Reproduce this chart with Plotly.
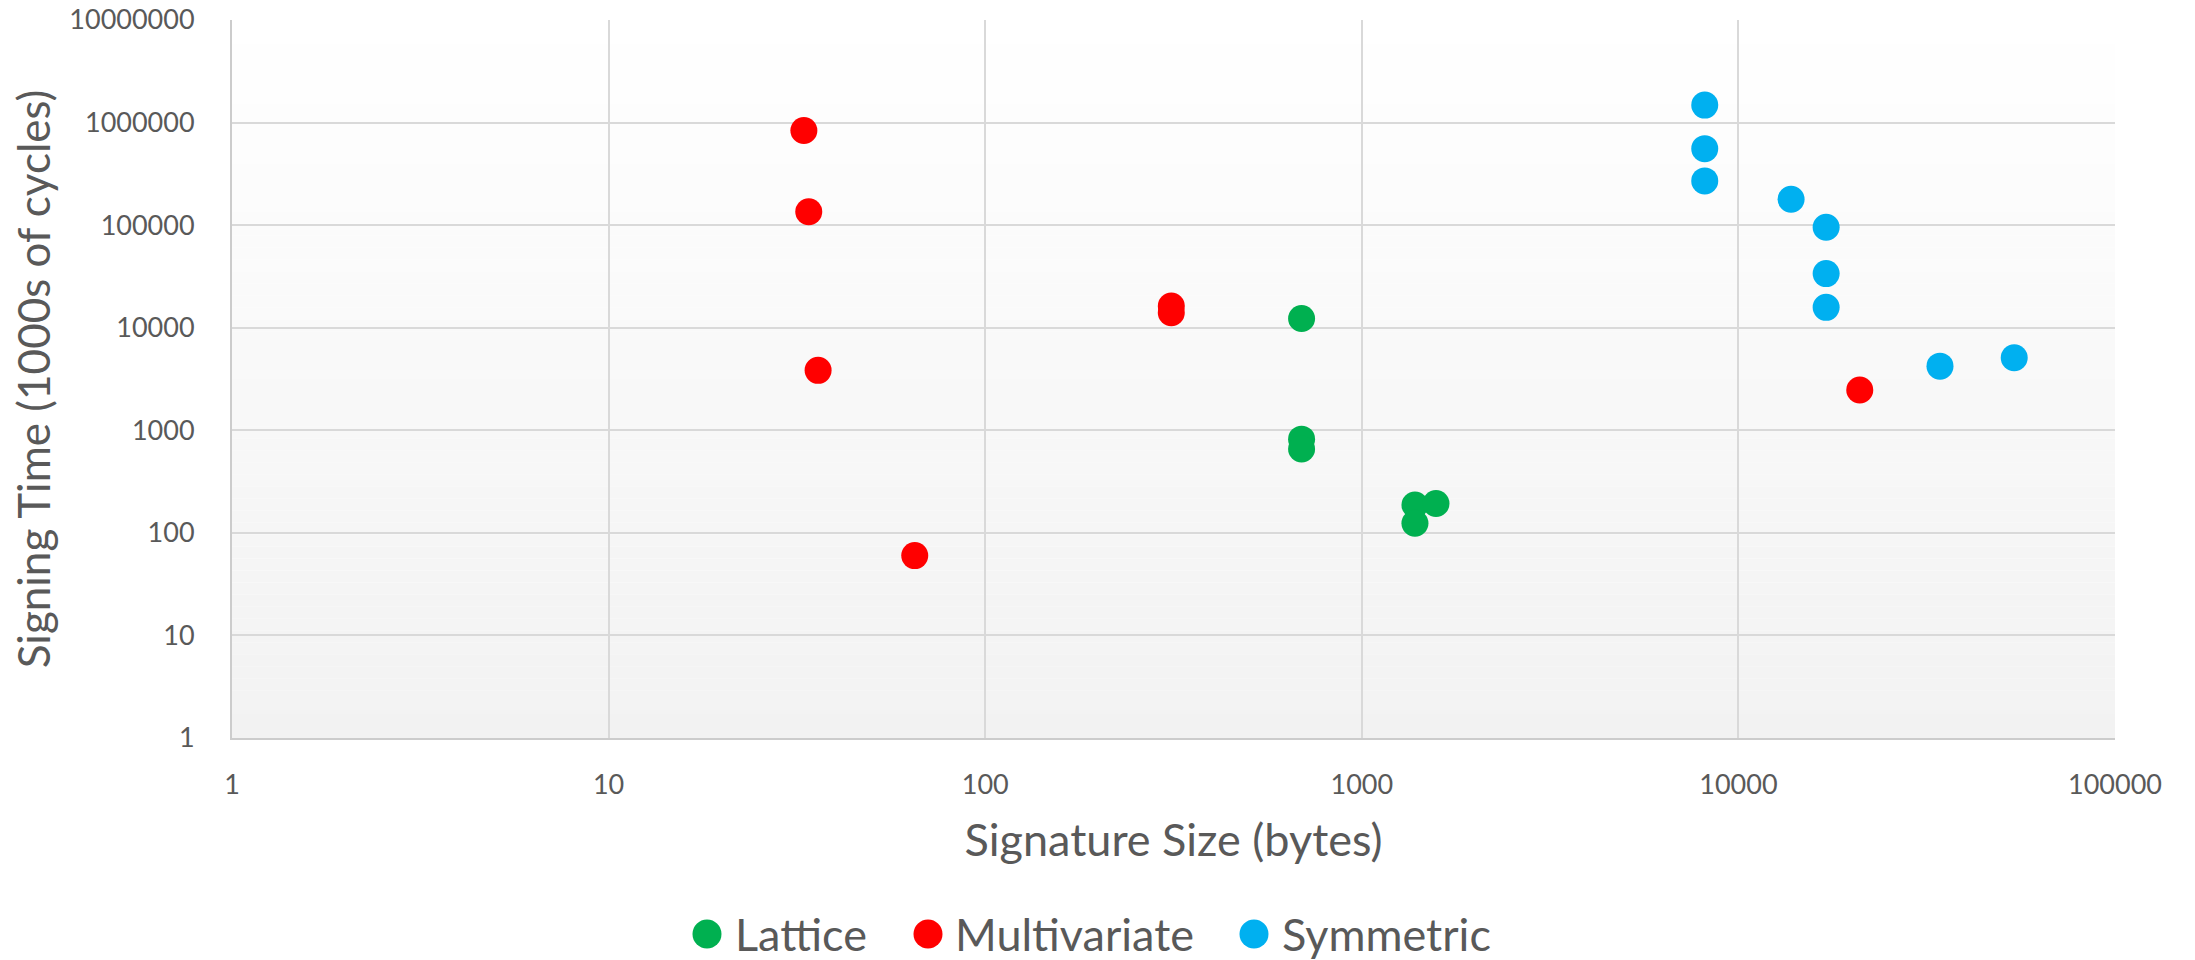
import plotly.graph_objects as go

# ---- data ----
lattice_x = [692, 692, 692, 1384, 1384, 1574]
lattice_y = [12300, 820, 658, 187, 124, 193]

multi_x = [33, 34, 36, 65, 312, 312, 21000]
multi_y = [838000, 135000, 3840, 60, 16300, 14000, 2470]

sym_x = [8140, 8140, 8140, 13800, 17100, 17100, 17100, 34300, 54000]
sym_y = [1480000, 557000, 270000, 179000, 95400, 33700, 15800, 4220, 5100]

x_tickvals = [1, 10, 100, 1000, 10000, 100000]
x_ticktext = ["1", "10", "100", "1000", "10000", "100000"]
y_tickvals = [1, 10, 100, 1000, 10000, 100000, 1000000, 10000000]
y_ticktext = ["1", "10", "100", "1000", "10000", "100000", "1000000", "10000000"]

FONT = "Lato"
TXT = "#595959"
MSIZE = 27

# plot area in page pixels
PL, PR, PT, PB = 232, 2115, 20, 738
W, H = 2195, 960


def px_x(X):
    return (X - PL) / (PR - PL)


def px_y(Y):
    return (PB - Y) / (PB - PT)


fig = go.Figure()
series = [
    ("Lattice", lattice_x, lattice_y, "#00B050"),
    ("Multivariate", multi_x, multi_y, "#FF0000"),
    ("Symmetric", sym_x, sym_y, "#00B0F0"),
]
for name, xs, ys, col in series:
    fig.add_trace(go.Scatter(
        x=xs, y=ys, mode="markers", name=name, showlegend=False,
        marker=dict(symbol="circle", size=MSIZE, color=col,
                    line=dict(width=0)),
    ))

# legend: large round swatches + labels (like the reference)
legend_dot_x = [707, 928, 1254]
legend_txt_x = [733, 953, 1280]
LEG_Y = 934
for (name, _, _, col), dx, tx in zip(series, legend_dot_x, legend_txt_x):
    fig.add_shape(type="circle", xref="paper", yref="paper",
                  xsizemode="pixel", ysizemode="pixel",
                  xanchor=px_x(dx), yanchor=px_y(LEG_Y),
                  x0=-14.5, x1=14.5, y0=-14.5, y1=14.5,
                  fillcolor=col, line=dict(width=0))
    fig.add_annotation(text=name, xref="paper", yref="paper",
                       x=px_x(tx), y=px_y(LEG_Y), xanchor="left", yanchor="middle",
                       showarrow=False, font=dict(size=45, color=TXT, family=FONT))

# vertical gradient background (white -> light gray), below gridlines
n = 60
for i in range(n):
    t = (i + 0.5) / n
    v = round(255 - (255 - 242) * t)
    fig.add_shape(type="rect", xref="x domain", yref="y domain",
                  x0=0, x1=1, y0=1 - (i + 1) / n, y1=1 - i / n,
                  fillcolor=f"rgb({v},{v},{v})", line=dict(width=0),
                  layer="below")

fig.update_layout(
    width=W, height=H,
    margin=dict(l=PL, r=W - PR, t=PT, b=H - PB, autoexpand=False),
    paper_bgcolor="white",
    plot_bgcolor="rgba(0,0,0,0)",
    font=dict(family=FONT, color=TXT),
    showlegend=False,
    xaxis=dict(type="log", range=[0, 5], tickvals=x_tickvals, ticktext=x_ticktext,
               automargin=False, ticklabeloverflow="allow",
               showgrid=True, gridcolor="#d9d9d9", gridwidth=1.5,
               showline=True, linecolor="#cccccc", linewidth=2,
               zeroline=False, ticks="", ticklabelstandoff=22,
               tickfont=dict(size=27, color=TXT),
               title=dict(text="Signature Size (bytes)", font=dict(size=45, color=TXT),
                          standoff=25)),
    yaxis=dict(type="log", range=[0, 7], tickvals=y_tickvals, ticktext=y_ticktext,
               automargin=False, ticklabeloverflow="allow",
               showgrid=True, gridcolor="#d9d9d9", gridwidth=1.5,
               showline=True, linecolor="#cccccc", linewidth=2,
               zeroline=False, ticks="", ticklabelstandoff=30,
               tickfont=dict(size=27, color=TXT),
               title=dict(text="Signing Time (1000s of cycles)", font=dict(size=44, color=TXT),
                          standoff=5)),
)

fig.write_html("out.html", config={"displayModeBar": False},
               post_script="document.body.style.margin='0';document.body.style.overflow='hidden';")
